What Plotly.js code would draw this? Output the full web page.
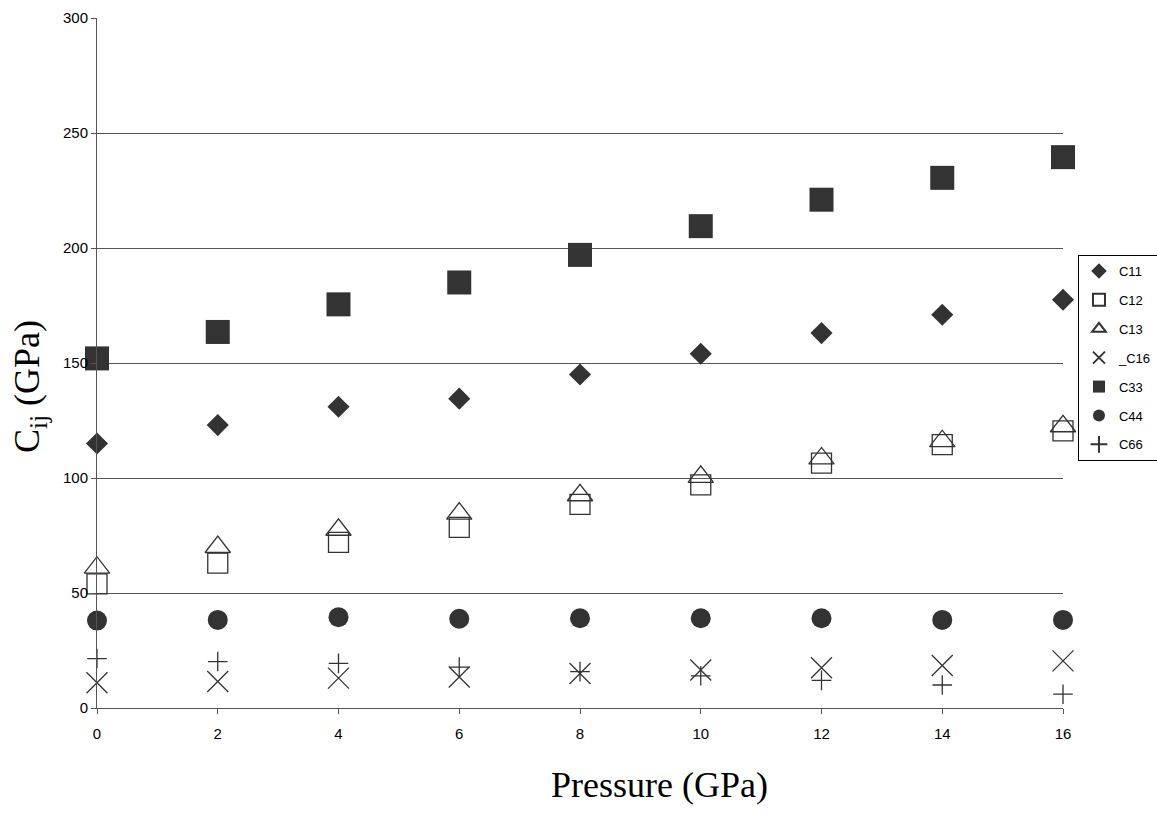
<!DOCTYPE html>
<html>
<head>
<meta charset="utf-8">
<script src="https://cdn.plot.ly/plotly-3.0.1.min.js"></script>
<style>html,body{margin:0;padding:0;background:#fff;}#chart{width:1157px;height:814px;}</style>
</head>
<body>
<div id="chart"></div>
<script>
const pressure = [0, 2, 4, 6, 8, 10, 12, 14, 16];
const C11 = [115, 123, 131, 134.5, 145, 154, 163, 171, 177.5];
const C12 = [54, 63, 72, 78.5, 88.5, 97, 106.5, 114.5, 120.5];
const C13 = [61, 70, 77.5, 84.5, 92.5, 100.5, 108.5, 116, 122.5];
const C16 = [11, 11.5, 13, 13.5, 15, 16.5, 17.5, 18.5, 20.5];
const C33 = [152, 163.5, 175.5, 185, 197, 209.5, 221, 230.5, 239.5];
const C44 = [38, 38.3, 39.5, 38.8, 39, 39, 39, 38.3, 38.3];
const C66 = [21.5, 20.2, 19.4, 17.8, 15.8, 14, 12, 10, 6];
const yTicks = [0, 50, 100, 150, 200, 250, 300];
const xTicks = [0, 2, 4, 6, 8, 10, 12, 14, 16];

const ink = '#333333';
function tr(name, y, symbol, size, open) {
  const m = {symbol: symbol, size: size, color: ink};
  if (open) { m.color = ink; m.line = {color: ink, width: 1.3}; }
  return {x: pressure, y: y, name: name, type: 'scatter', mode: 'markers',
          marker: m, cliponaxis: false, legendgroup: name};
}
const data = [
  tr('C11', C11, 'diamond', 17, false),
  tr('C12', C12, 'square-open', 20, true),
  tr('C13', C13, 'triangle-up-open', 22, true),
  tr('_C16', C16, 'x-thin-open', 21, true),
  tr('C33', C33, 'square', 24, false),
  tr('C44', C44, 'circle', 20, false),
  tr('C66', C66, 'cross-thin-open', 14, true)
];

const layout = {
  width: 1157, height: 814,
  margin: {l: 97, r: 94, t: 18, b: 106, autoexpand: false},
  paper_bgcolor: '#fff', plot_bgcolor: '#fff',
  showlegend: true,
  font: {family: 'Liberation Sans, Arial, sans-serif', size: 15, color: '#000'},
  xaxis: {range: [0, 16], tickvals: xTicks, ticktext: xTicks.map(String),
          showgrid: false, zeroline: false, showline: true, linecolor: '#555', linewidth: 1,
          ticks: 'outside', ticklen: 5, tickcolor: '#555', ticklabelstandoff: 7,
          tickfont: {size: 15, family: 'Liberation Sans, Arial, sans-serif'}},
  yaxis: {range: [0, 300], tickvals: yTicks, ticktext: yTicks.map(String),
          showgrid: true, gridcolor: '#555', gridwidth: 1, zeroline: false,
          showline: true, linecolor: '#555', linewidth: 1,
          ticks: 'outside', ticklen: 5, tickcolor: '#555',
          tickfont: {size: 15, family: 'Liberation Sans, Arial, sans-serif'}},
  legend: {xref: 'container', x: 0.9317, y: 0.6565, xanchor: 'left', yanchor: 'top',
           bordercolor: '#000', borderwidth: 1, bgcolor: '#fff',
           font: {size: 13, family: 'Liberation Sans, Arial, sans-serif'},
           itemsizing: 'constant', traceorder: 'grouped', tracegroupgap: 9},
  annotations: [
    {text: 'C<sub>ij</sub> (GPa)', xref: 'paper', yref: 'paper', x: -0.0694, y: 0.4667,
     xanchor: 'center', yanchor: 'middle', textangle: -90, showarrow: false,
     font: {family: 'Liberation Serif, Times New Roman, serif', size: 36, color: '#000'}},
    {text: 'Pressure (GPa)', xref: 'paper', yref: 'paper', x: 0.5818, y: -0.1116,
     xanchor: 'center', yanchor: 'middle', showarrow: false,
     font: {family: 'Liberation Serif, Times New Roman, serif', size: 36, color: '#000'}}
  ]
};

Plotly.newPlot('chart', data, layout, {displayModeBar: false, staticPlot: true});
</script>
</body>
</html>
